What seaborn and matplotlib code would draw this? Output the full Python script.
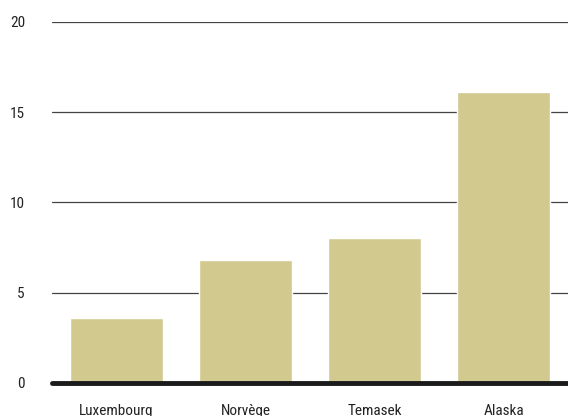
import matplotlib
matplotlib.use("Agg")
import matplotlib.pyplot as plt
import seaborn as sns
import pandas as pd
from matplotlib import font_manager

categories = ["Luxembourg", "Norvège", "Temasek", "Alaska"]
values = [3.6, 6.8, 8.05, 16.1]
yticks = [0, 5, 10, 15, 20]

names = {f.name for f in font_manager.fontManager.ttflist}
fam = [f for f in ["Liberation Sans Narrow", "Roboto Condensed", "DejaVu Sans Condensed", "Liberation Sans", "DejaVu Sans"] if f in names]

sns.set_theme(style="white")
plt.rcParams["font.family"] = fam + ["DejaVu Sans"]

df = pd.DataFrame({"cat": categories, "val": values})
fig = plt.figure(figsize=(5.68, 4.16), dpi=100)
ax = fig.add_axes([52/568, 1 - 383/416, 516/568, (383 - 22)/416])
sns.barplot(data=df, x="cat", y="val", color="#d2c98f", saturation=1, width=0.72, ax=ax, zorder=3)
ax.set_ylim(0, 20)
ax.set_xlim(-0.5, 3.5)
ax.set_yticks(yticks)
ax.set_yticklabels([str(t) for t in yticks])
for t in yticks[1:]:
    ax.axhline(t, color="#444444", lw=0.9, zorder=1)
ax.axhline(0, color="#1a1a1a", lw=3.5, zorder=4, clip_on=False)
for s in ax.spines.values():
    s.set_visible(False)
ax.set_xlabel("")
ax.set_ylabel("")
ax.tick_params(axis="y", length=0, pad=19.5, labelsize=11, labelcolor="#222222")
ax.tick_params(axis="x", length=0, pad=15, labelsize=11, labelcolor="#222222")
fig.savefig("out.png", dpi=100)
